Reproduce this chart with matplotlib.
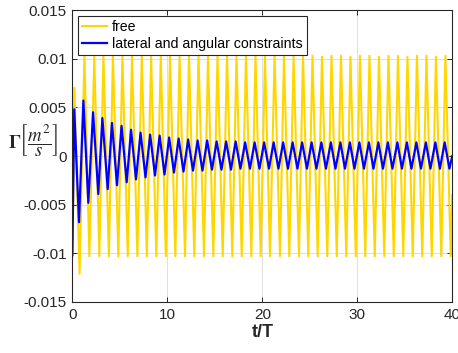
import matplotlib
matplotlib.use("Agg")
import matplotlib.pyplot as plt

# free case: start value, peaks, troughs, end value
free_start = (0.0, -0.0100)
free_end = (40.0, -0.0040)
free_peak_t = [0.21, 1.27, 2.31, 3.27, 4.27, 5.27, 6.28, 7.31, 8.29, 9.31,
               10.28, 11.29, 12.28, 13.28, 14.28, 15.28, 16.28, 17.28, 18.28, 19.28,
               20.28, 21.29, 22.28, 23.29, 24.28, 25.28, 26.28, 27.28, 28.28, 29.28,
               30.28, 31.28, 32.28, 33.28, 34.28, 35.28, 36.28, 37.28, 38.28, 39.28]
free_peak_v = [0.0070, 0.0103, 0.0102, 0.0103, 0.0103, 0.0102, 0.0103, 0.0103, 0.0102, 0.0103,
               0.0103, 0.0102, 0.0103, 0.0103, 0.0102, 0.0103, 0.0103, 0.0102, 0.0103, 0.0103,
               0.0102, 0.0103, 0.0103, 0.0102, 0.0103, 0.0103, 0.0102, 0.0103, 0.0103, 0.0102,
               0.0103, 0.0103, 0.0102, 0.0103, 0.0103, 0.0102, 0.0103, 0.0103, 0.0102, 0.0103]
free_trough_t = [0.76, 1.79, 2.84, 3.85, 4.84, 5.83, 6.84, 7.84, 8.84, 9.84,
                 10.84, 11.86, 12.84, 13.86, 14.84, 15.83, 16.84, 17.83, 18.84, 19.83,
                 20.81, 21.86, 22.84, 23.86, 24.84, 25.83, 26.84, 27.84, 28.84, 29.84,
                 30.84, 31.84, 32.84, 33.84, 34.84, 35.84, 36.84, 37.84, 38.84, 39.84]
free_trough_v = [-0.0121, -0.0103, -0.0103, -0.0103, -0.0103, -0.0103, -0.0103, -0.0103, -0.0103, -0.0103,
                 -0.0103, -0.0103, -0.0103, -0.0103, -0.0103, -0.0103, -0.0103, -0.0103, -0.0103, -0.0103,
                 -0.0103, -0.0103, -0.0103, -0.0103, -0.0103, -0.0103, -0.0103, -0.0103, -0.0103, -0.0103,
                 -0.0103, -0.0103, -0.0103, -0.0103, -0.0103, -0.0103, -0.0103, -0.0103, -0.0103, -0.0103]

# lateral and angular constraints
con_start = (0.0, -0.0102)
con_end = (40.0, 0.0)
con_peak_t = [0.20, 1.16, 2.18, 3.16, 4.17, 5.18, 6.18, 7.18, 8.19, 9.19,
              10.19, 11.19, 12.19, 13.19, 14.19, 15.19, 16.19, 17.19, 18.19, 19.19,
              20.19, 21.19, 22.19, 23.19, 24.19, 25.19, 26.22, 27.22, 28.22, 29.22,
              30.22, 31.22, 32.22, 33.22, 34.22, 35.22, 36.22, 37.22, 38.22, 39.20]
con_peak_v = [0.0048, 0.0057, 0.0045, 0.0039, 0.0034, 0.0031, 0.0027, 0.0024, 0.0022, 0.0021,
              0.0019, 0.0018, 0.0017, 0.0016, 0.0016, 0.0015, 0.0015, 0.0015, 0.0014, 0.0014,
              0.0014, 0.0014, 0.0014, 0.0014, 0.0014, 0.0014, 0.0014, 0.0014, 0.0014, 0.0014,
              0.0014, 0.0014, 0.0014, 0.0014, 0.0014, 0.0014, 0.0014, 0.0014, 0.0014, 0.0014]
con_trough_t = [0.70, 1.68, 2.73, 3.72, 4.70, 5.72, 6.70, 7.70, 8.70, 9.70,
                10.70, 11.70, 12.70, 13.70, 14.70, 15.70, 16.70, 17.70, 18.70, 19.70,
                20.70, 21.70, 22.70, 23.70, 24.70, 25.70, 26.70, 27.70, 28.70, 29.70,
                30.70, 31.70, 32.70, 33.70, 34.70, 35.70, 36.70, 37.70, 38.70, 39.70]
con_trough_v = [-0.0068, -0.0048, -0.0039, -0.0034, -0.0030, -0.0027, -0.0024, -0.0022, -0.0020, -0.0019,
                -0.0017, -0.0016, -0.0015, -0.0015, -0.0014, -0.0014, -0.0014, -0.0013, -0.0013, -0.0013,
                -0.0013, -0.0013, -0.0013, -0.0013, -0.0013, -0.0013, -0.0013, -0.0013, -0.0013, -0.0013,
                -0.0013, -0.0013, -0.0013, -0.0013, -0.0013, -0.0013, -0.0013, -0.0013, -0.0013, -0.0013]

series_labels = ["free", "lateral and angular constraints"]
x_ticks = [0, 10, 20, 30, 40]
y_ticks = [-0.015, -0.01, -0.005, 0, 0.005, 0.01, 0.015]
y_tick_labels = ["-0.015", "-0.01", "-0.005", "0", "0.005", "0.01", "0.015"]


def build(start, end, peak_t, peak_v, trough_t, trough_v):
    pts = [start] + list(zip(peak_t, peak_v)) + list(zip(trough_t, trough_v)) + [end]
    pts.sort(key=lambda p: p[0])
    return [p[0] for p in pts], [p[1] for p in pts]


def main():
    plt.rcParams['font.family'] = ['Liberation Sans', 'DejaVu Sans']
    plt.rcParams['mathtext.fontset'] = 'stix'
    dark = '#262626'

    fig = plt.figure(figsize=(4.58, 3.53), dpi=100)
    ax = fig.add_axes([0.158, 0.1445, 0.8295, 0.827])

    ft, fv = build(free_start, free_end, free_peak_t, free_peak_v,
                   free_trough_t, free_trough_v)
    ct, cv = build(con_start, con_end, con_peak_t, con_peak_v,
                   con_trough_t, con_trough_v)

    ax.plot(ft, fv, color='#FFD700', lw=1.5, label=series_labels[0])
    ax.plot(ct, cv, color='#0000FF', lw=1.6, label=series_labels[1],
            solid_joinstyle='round')

    ax.set_xlim(0, 40)
    ax.set_ylim(-0.015, 0.015)
    ax.set_xticks(x_ticks)
    ax.set_yticks(y_ticks)
    ax.set_yticklabels(y_tick_labels)
    ax.grid(True, color='#dedede', lw=0.7)
    ax.set_axisbelow(True)
    ax.tick_params(direction='in', length=3.5, width=0.7, top=True, right=True,
                   labelsize=11, colors=dark, pad=4)
    for s in ax.spines.values():
        s.set_color(dark)
        s.set_linewidth(0.8)

    ax.set_xlabel("t/T", fontsize=13, fontweight='bold', color=dark, labelpad=2)
    ax.set_ylabel(r'$\mathbf{\Gamma}\left[\dfrac{m^2}{s}\right]$', rotation=0,
                  fontsize=13.5, ha='right', va='center', color=dark)
    ax.yaxis.set_label_coords(-0.036, 0.555)

    leg = ax.legend(loc='upper left', fontsize=10.2, handlelength=1.75,
                    handletextpad=0.35, borderaxespad=0.4, labelspacing=0.2,
                    fancybox=False, framealpha=1, borderpad=0.3)
    leg.get_frame().set_edgecolor(dark)
    leg.get_frame().set_linewidth(0.8)

    fig.savefig("out.png", dpi=100)


if __name__ == "__main__":
    main()
